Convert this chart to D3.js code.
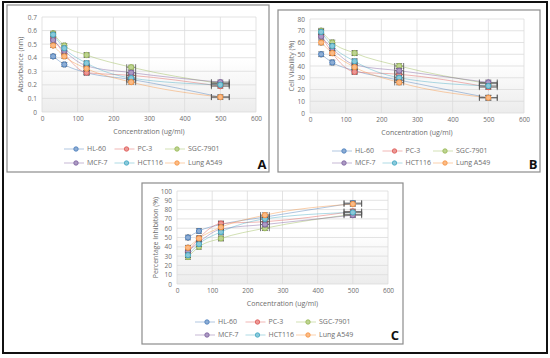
<!DOCTYPE html>
<html>
<head>
<meta charset="utf-8">
<script src="https://cdn.jsdelivr.net/npm/d3@7"></script>
<style>
  body { margin: 0; background: #fff; }
  text { font-family: "Open Sans", "DejaVu Sans", sans-serif; }
</style>
</head>
<body>
<svg id="chart" width="550" height="358"></svg>
<script>
// concentrations (ug/ml)
let conc = [31.25, 62.5, 125, 250, 500];
let lines = ["HL-60", "PC-3", "SGC-7901", "MCF-7", "HCT116", "Lung A549"];
let colors = ["#4f81bd", "#e0605c", "#9bbb59", "#8064a2", "#4bacc6", "#f79646"];

// panel A: absorbance (nm)
let absHL60 = [0.41, 0.35, 0.29, 0.24, 0.11];
let absPC3 = [0.54, 0.43, 0.29, 0.27, 0.19];
let absSGC = [0.58, 0.49, 0.42, 0.33, 0.21];
let absMCF7 = [0.53, 0.45, 0.34, 0.29, 0.22];
let absHCT = [0.57, 0.47, 0.36, 0.25, 0.20];
let absA549 = [0.49, 0.41, 0.32, 0.22, 0.11];

// panel B: cell viability (%)
let viaHL60 = [50, 43, 36, 28, 13];
let viaPC3 = [66, 51, 35, 33, 22];
let viaSGC = [70, 60, 51, 40, 25];
let viaMCF7 = [65, 55, 41, 36, 26];
let viaHCT = [69, 57, 44, 30, 23];
let viaA549 = [60, 51, 39, 26, 13];

// panel C: percentage inhibition (%)
let inhHL60 = [50, 57, 64, 72, 87];
let inhPC3 = [34, 49, 65, 67, 78];
let inhSGC = [29, 40, 49, 60, 75];
let inhMCF7 = [35, 45, 59, 64, 74];
let inhHCT = [31, 43, 56, 70, 77];
let inhA549 = [39, 49, 61, 74, 86];

let xTicks = [0, 100, 200, 300, 400, 500, 600];

let panels = [
  { box: [7, 5, 262, 167], x0: 42, x1: 256, y0: 112, y1: 17, ymax: 0.7, step: 0.1, err: 0.015,
    title: "Absorbance (nm)", letter: "A", lx: 262, ly: 169, legY: [149, 163], legDx: 34,
    series: [absHL60, absPC3, absSGC, absMCF7, absHCT, absA549] },
  { box: [278, 10, 262, 162], x0: 310, x1: 524, y0: 113, y1: 19, ymax: 80, step: 10, err: 2,
    title: "Cell Viability (%)", letter: "B", lx: 533, ly: 169, legY: [151, 163], legDx: 34,
    series: [viaHL60, viaPC3, viaSGC, viaMCF7, viaHCT, viaA549] },
  { box: [142, 183, 261, 161], x0: 177, x1: 388, y0: 284, y1: 191, ymax: 100, step: 10, err: 2.5,
    title: "Percentage Inhibition (%)", letter: "C", lx: 395, ly: 340, legY: [322, 335], legDx: 30,
    series: [inhHL60, inhPC3, inhSGC, inhMCF7, inhHCT, inhA549] }
];

let svg = d3.select("#chart");

// outer frame
svg.append("rect").attr("x", 3).attr("y", 2).attr("width", 544).attr("height", 351)
  .attr("fill", "none").attr("stroke", "#111").attr("stroke-width", 2);

let defs = svg.append("defs");
let grad = defs.append("linearGradient").attr("id", "plotbg").attr("x1", 0).attr("y1", 0).attr("x2", 0).attr("y2", 1);
grad.append("stop").attr("offset", "0%").attr("stop-color", "#ffffff");
grad.append("stop").attr("offset", "45%").attr("stop-color", "#ffffff");
grad.append("stop").attr("offset", "100%").attr("stop-color", "#ececec");

panels.forEach(function(p) {
  let g = svg.append("g");
  g.append("rect").attr("x", p.box[0]).attr("y", p.box[1]).attr("width", p.box[2]).attr("height", p.box[3])
    .attr("fill", "#fff").attr("stroke", "#8c8c8c").attr("stroke-width", 1.2);

  let x = d3.scaleLinear().domain([0, 600]).range([p.x0, p.x1]);
  let y = d3.scaleLinear().domain([0, p.ymax]).range([p.y0, p.y1]);
  let yTicks = d3.range(0, p.ymax + p.step / 2, p.step);

  g.append("rect").attr("x", p.x0).attr("y", p.y1).attr("width", p.x1 - p.x0).attr("height", p.y0 - p.y1)
    .attr("fill", "url(#plotbg)");

  // grid
  g.selectAll(".hg").data(yTicks).enter().append("line")
    .attr("x1", p.x0).attr("x2", p.x1).attr("y1", d => y(d)).attr("y2", d => y(d))
    .attr("stroke", "#dcdcdc").attr("stroke-width", 0.8);
  g.selectAll(".vg").data(xTicks).enter().append("line")
    .attr("y1", p.y0).attr("y2", p.y1).attr("x1", d => x(d)).attr("x2", d => x(d))
    .attr("stroke", "#dcdcdc").attr("stroke-width", 0.8);

  // axes labels
  let fmt = p.step < 1 ? (d => d === 0 ? "0" : d3.format(".1f")(d)) : d3.format("d");
  let yAxis = d3.axisLeft(y).tickValues(yTicks).tickFormat(fmt).tickSize(0).tickPadding(5);
  let ya = g.append("g").attr("transform", "translate(" + p.x0 + ",0)").call(yAxis);
  let xAxis = d3.axisBottom(x).tickValues(xTicks).tickSize(0).tickPadding(4);
  let xa = g.append("g").attr("transform", "translate(0," + p.y0 + ")").call(xAxis);
  [ya, xa].forEach(function(a) {
    a.select(".domain").remove();
    a.selectAll("text").attr("fill", "#6d6d6d").style("font-size", "6.5px");
  });

  g.append("text").attr("x", (p.x0 + p.x1) / 2).attr("y", p.y0 + 22).attr("text-anchor", "middle")
    .attr("fill", "#6d6d6d").style("font-size", "7px").text("Concentration (ug/ml)");
  g.append("text").attr("transform", "translate(" + (p.box[0] + 16) + "," + ((p.y0 + p.y1) / 2) + ") rotate(-90)")
    .attr("text-anchor", "middle").attr("fill", "#6d6d6d").style("font-size", "7px").text(p.title);

  let line = d3.line().x(d => x(d[0])).y(d => y(d[1])).curve(d3.curveMonotoneX);

  p.series.forEach(function(vals, i) {
    let pts = conc.map((c, k) => [c, vals[k]]);
    g.append("path").datum(pts).attr("d", line).attr("fill", "none")
      .attr("stroke", colors[i]).attr("stroke-opacity", 0.45).attr("stroke-width", 1);
  });

  p.series.forEach(function(vals, i) {
    let pts = conc.map((c, k) => [c, vals[k]]);
    let eb = g.append("g").attr("stroke", "#555").attr("stroke-width", 0.8);
    pts.forEach(function(d) {
      let xe = d[0] * 0.05;
      eb.append("line").attr("x1", x(d[0])).attr("x2", x(d[0])).attr("y1", y(d[1] - p.err)).attr("y2", y(d[1] + p.err));
      [d[1] - p.err, d[1] + p.err].forEach(v => eb.append("line")
        .attr("x1", x(d[0]) - 3).attr("x2", x(d[0]) + 3).attr("y1", y(v)).attr("y2", y(v)));
      eb.append("line").attr("x1", x(d[0] - xe)).attr("x2", x(d[0] + xe)).attr("y1", y(d[1])).attr("y2", y(d[1]));
      [d[0] - xe, d[0] + xe].forEach(v => eb.append("line")
        .attr("x1", x(v)).attr("x2", x(v)).attr("y1", y(d[1]) - 3).attr("y2", y(d[1]) + 3));
    });
    g.selectAll(null).data(pts).enter().append("circle")
      .attr("cx", d => x(d[0])).attr("cy", d => y(d[1])).attr("r", 2.6)
      .attr("fill", d3.interpolateRgb(colors[i], "#fff")(0.35)).attr("stroke", colors[i]).attr("stroke-width", 1);
  });

  // legend
  lines.forEach(function(name, i) {
    let mx = p.x0 + p.legDx + (i % 3) * 50.5;
    let my = p.legY[Math.floor(i / 3)];
    g.append("line").attr("x1", mx - 12).attr("x2", mx + 8).attr("y1", my).attr("y2", my)
      .attr("stroke", colors[i]).attr("stroke-opacity", 0.45).attr("stroke-width", 1);
    g.append("circle").attr("cx", mx).attr("cy", my).attr("r", 2.2)
      .attr("fill", d3.interpolateRgb(colors[i], "#fff")(0.35)).attr("stroke", colors[i]).attr("stroke-width", 0.9);
    g.append("text").attr("x", mx + 11).attr("y", my + 2.4).attr("fill", "#6d6d6d")
      .style("font-size", "7px").text(name);
  });

  g.append("text").attr("x", p.lx).attr("y", p.ly).attr("text-anchor", "middle")
    .style("font-size", "13px").style("font-weight", "bold").attr("fill", "#111").text(p.letter);
});
</script>
</body>
</html>
